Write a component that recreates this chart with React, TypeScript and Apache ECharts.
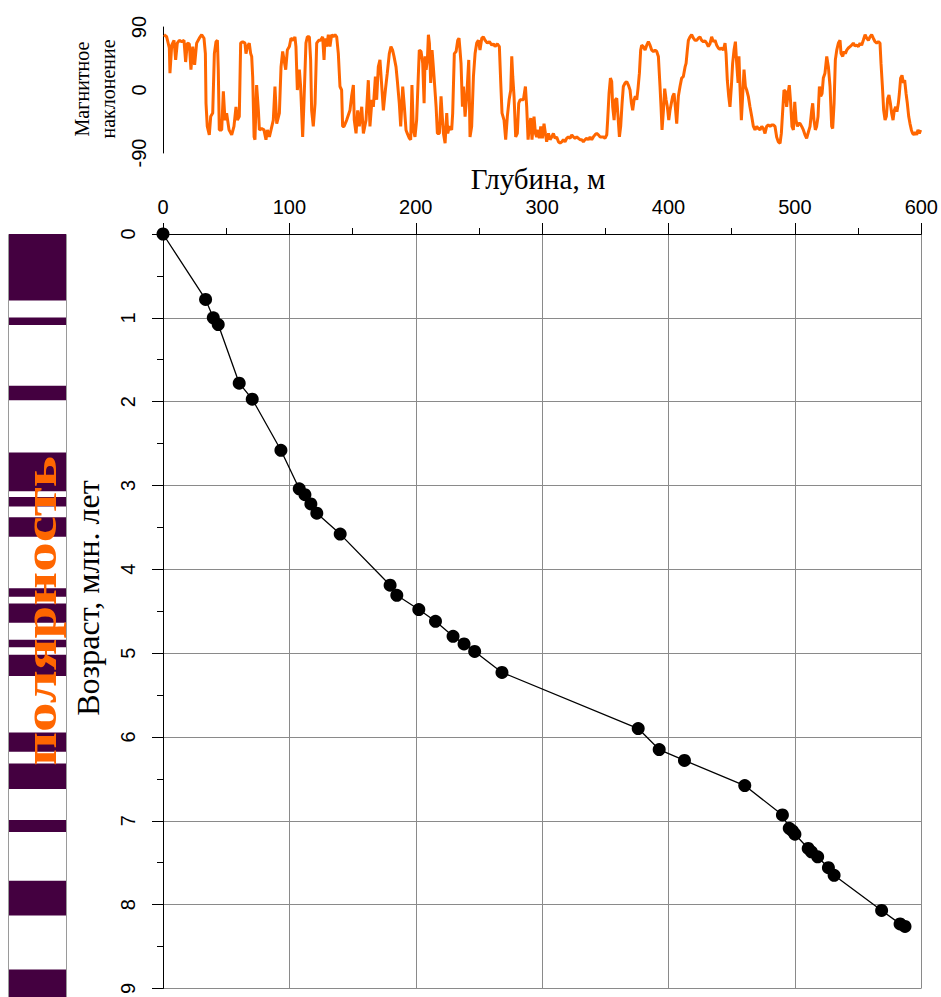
import React, { useEffect, useRef } from "react";
import * as echarts from "echarts";

// Magnetic inclination log: depth (m) and inclination (deg)
const inclDepth = [
  0.8, 2.9, 5.0, 5.5, 6.9, 8.7, 10.0, 11.3, 12.9, 14.8, 16.6, 17.9, 19.2, 20.8, 22.1, 23.5, 25.0, 26.6, 28.7, 30.6,
  32.4, 33.5, 34.0, 35.0, 36.6, 37.7, 39.3, 40.6, 41.9, 43.0, 43.7, 44.5, 46.4, 47.7, 49.0, 50.3, 52.2, 54.3, 56.1, 57.7,
  58.8, 60.3, 61.4, 63.0, 64.8, 65.6, 66.7, 68.2, 69.3, 70.1, 70.9, 72.0, 72.7, 74.0, 75.4, 76.2, 78.0, 79.8, 81.4, 82.5,
  84.1, 85.4, 87.2, 88.5, 89.9, 92.0, 93.3, 94.6, 95.7, 97.0, 98.3, 99.9, 101.2, 103.0, 104.3, 105.1, 106.2, 107.8, 108.8, 110.4,
  111.5, 113.0, 114.1, 115.7, 116.7, 117.5, 118.8, 120.2, 121.5, 123.1, 124.6, 126.2, 127.3, 128.1, 129.4, 130.7, 132.0, 133.3, 134.6, 136.0,
  137.3, 138.6, 139.9, 141.2, 142.0, 143.1, 145.2, 147.8, 149.1, 150.5, 151.2, 152.6, 153.9, 155.2, 157.1, 158.4, 160.5, 162.3, 163.6, 165.2,
  166.3, 167.9, 168.9, 170.2, 171.5, 172.6, 174.2, 175.8, 177.3, 178.9, 180.2, 181.5, 182.6, 184.2, 185.2, 186.8, 187.9, 189.5, 190.8, 192.1,
  193.1, 194.7, 195.8, 196.8, 197.9, 199.2, 200.5, 201.8, 202.6, 204.0, 205.3, 206.4, 207.2, 208.0, 209.0, 209.8, 210.6, 211.6, 212.7, 213.7,
  214.8, 215.9, 216.9, 218.5, 219.8, 220.6, 221.7, 223.0, 224.3, 225.1, 226.4, 228.2, 229.0, 230.3, 231.7, 233.0, 234.0, 234.8, 235.6, 236.7,
  237.5, 238.8, 240.1, 241.7, 242.7, 244.0, 245.4, 246.7, 248.0, 249.3, 250.6, 252.0, 253.3, 254.6, 256.4, 258.0, 259.9, 261.2, 262.5, 264.3,
  265.9, 267.0, 268.0, 269.6, 270.9, 272.2, 273.6, 274.9, 275.7, 276.5, 277.5, 278.8, 280.1, 281.2, 282.3, 283.6, 284.9, 286.5, 287.5, 288.6,
  289.6, 290.7, 291.7, 293.3, 294.4, 295.4, 296.5, 297.5, 298.6, 299.9, 301.2, 302.3, 303.3, 304.7, 306.0, 307.3, 308.6, 309.9, 311.2, 312.6,
  313.9, 315.2, 316.5, 317.8, 319.1, 320.5, 321.8, 323.1, 324.4, 325.7, 327.1, 328.4, 329.7, 331.0, 332.3, 333.6, 335.0, 336.3, 337.6, 338.9,
  340.2, 341.5, 342.9, 344.2, 345.5, 346.8, 348.1, 349.4, 350.8, 351.5, 352.6, 353.7, 354.7, 355.5, 356.6, 357.6, 358.7, 359.7, 360.8, 361.8,
  362.9, 363.9, 365.3, 366.6, 367.9, 369.2, 370.3, 371.3, 372.4, 373.4, 374.5, 375.5, 376.6, 377.6, 378.4, 379.7, 381.1, 382.4, 383.7, 385.0,
  386.3, 387.7, 389.0, 390.3, 391.6, 392.9, 393.7, 394.5, 395.6, 396.6, 397.7, 398.7, 399.8, 400.8, 402.9, 404.0, 405.0, 406.1, 407.4, 408.7,
  410.0, 411.3, 412.7, 413.5, 414.5, 415.3, 416.6, 417.9, 419.3, 420.6, 421.9, 423.2, 424.5, 425.8, 427.2, 428.5, 429.8, 431.1, 432.4, 433.7,
  435.1, 436.4, 437.7, 439.0, 440.3, 441.6, 443.0, 444.3, 445.1, 446.1, 447.2, 448.2, 449.3, 450.3, 451.4, 452.5, 453.5, 454.6, 455.3, 456.1,
  457.2, 458.2, 459.3, 460.4, 461.4, 462.7, 464.0, 465.4, 466.7, 468.0, 469.3, 470.6, 472.0, 473.3, 474.6, 475.9, 477.2, 478.5, 479.9, 481.2,
  482.5, 483.8, 485.1, 486.4, 487.8, 488.8, 489.9, 490.9, 492.0, 493.0, 494.1, 495.1, 496.2, 497.2, 498.3, 499.4, 500.4, 501.5, 502.5, 503.6,
  504.9, 506.2, 507.5, 508.8, 510.2, 511.5, 512.8, 513.6, 514.6, 515.7, 516.7, 517.8, 518.9, 519.9, 521.0, 522.0, 523.3, 524.7, 526.0, 527.3,
  528.6, 529.4, 530.5, 531.5, 532.6, 533.9, 535.2, 536.0, 537.3, 538.4, 539.4, 540.5, 541.8, 543.1, 544.4, 545.7, 547.0, 548.4, 549.7, 551.0,
  552.3, 553.6, 555.0, 556.3, 557.6, 558.9, 560.2, 561.5, 562.9, 564.2, 565.5, 566.8, 567.6, 568.7, 569.7, 570.8, 571.8, 572.9, 573.9, 575.0,
  576.0, 577.1, 578.1, 579.2, 580.2, 581.3, 582.1, 583.1, 584.2, 585.3, 586.3, 587.4, 588.4, 589.5, 590.5, 591.6, 592.6, 593.7, 594.7, 595.8,
  596.8, 597.9, 598.9,
];
const inclValue = [
  79, 76, 60, 24, 64, 71, 43, 67, 71, 69, 71, 40, 67, 66, 29, 62, 36, 67, 74, 79,
  74, 52, -19, -52, -64, -38, -33, 52, 69, 71, 29, -57, -57, -2, -43, -33, -57, -64, -52, -24,
  -43, -38, 67, 69, 67, 52, 62, 67, 52, 48, 19, -67, -71, 7, -29, -57, -55, -57, -71, -57,
  -67, -57, -43, 5, -48, -33, 33, 55, 43, 29, 57, 62, 74, 71, 76, 62, 0, 29, 5, -67,
  -14, 67, 76, 76, 43, -29, -52, -19, 67, 71, 71, 76, 43, 74, 62, 79, 62, 79, 76, 79,
  76, 52, 5, 0, -52, -52, -43, -29, -9, 7, -43, -62, -29, -52, -24, -62, -43, 14, -52, -14,
  -24, 19, -14, 33, 43, 14, -29, 0, 24, 52, 62, 57, 48, 33, 14, -19, -52, 5, -24, -57,
  -62, -69, -71, 7, -57, -67, -43, 19, 57, 55, 38, -19, 48, 29, 43, 79, 67, 10, 57, 33,
  5, -24, -62, -62, -9, -33, -62, -76, -33, -62, -52, -57, -33, 52, 55, 71, 74, 57, 38, -24,
  5, -38, -9, 43, -67, -52, 19, 52, 67, 71, 57, 74, 76, 71, 67, 69, 64, 66, 62, 66,
  62, 10, -33, -43, -71, -38, -14, 0, 48, 19, -9, -67, -62, -19, -14, -14, -14, 5, -24, -71,
  -52, -40, -71, -38, -62, -67, -57, -69, -52, -69, -48, -62, -74, -62, -71, -67, -62, -69, -67, -74,
  -76, -74, -71, -74, -69, -67, -69, -64, -67, -69, -67, -69, -71, -71, -74, -71, -69, -71, -67, -71,
  -67, -64, -62, -64, -67, -67, -67, -69, -64, -43, -5, 17, 12, -24, -43, -14, -12, -38, -67, -52,
  -19, 5, 10, 12, 7, 0, -19, -29, -14, -9, -14, 2, 24, 57, 64, 62, 57, 64, 69, 64,
  57, 55, 57, 55, 48, 5, -24, -57, -29, 2, -14, -24, -43, -29, -9, -5, -24, -48, -9, 5,
  17, 19, 33, 38, 57, 71, 76, 79, 74, 71, 71, 74, 76, 71, 69, 70, 67, 62, 66, 76,
  69, 71, 64, 60, 58, 60, 57, 67, 52, 14, -9, -24, 5, 38, 57, 69, 38, 10, 48, 5,
  -43, -9, 29, 5, 0, -9, -24, -38, -52, -57, -52, -55, -57, -52, -55, -62, -52, -50, -52, -50,
  -50, -52, -67, -74, -76, -62, -29, 0, -2, -24, -5, 7, -19, -52, -57, -17, -43, -52, -48, -48,
  -52, -57, -64, -69, -60, -52, -29, -19, -43, -57, -52, -38, 5, -9, -5, 17, 24, 48, 33, 5,
  -52, -55, -19, 43, 57, 67, 71, 52, 48, 55, 52, 57, 60, 62, 64, 67, 63, 64, 62, 67,
  64, 71, 79, 74, 71, 76, 79, 74, 69, 67, 69, 67, 38, 5, -29, -43, -38, -12, -7, -19,
  -33, -43, -29, -24, -31, -19, -5, 17, 21, 10, 14, -5, -19, -38, -48, -57, -62, -64, -60, -64,
  -57, -62, -57,
];

// Age-depth tie points: depth (m) and age (Ma)
const tieDepth = [
  0, 33.7, 39.8, 43.7, 60.3, 70.6, 93.3, 107.8, 112.3, 117, 121.7, 140.2, 179.7, 185, 202.4, 215.6, 229.5, 238.2,
  246.6, 268.2, 376, 392.6, 412.6, 460.3, 490.1, 495.5, 498, 500, 510.5, 513, 518, 526.5, 531, 568.6, 583.2, 587.1,
];
const tieAge = [
  0, 0.78, 1.0, 1.08, 1.78, 1.97, 2.58, 3.04, 3.11, 3.22, 3.33, 3.58, 4.19, 4.31, 4.48, 4.62, 4.8, 4.89,
  4.98, 5.23, 5.9, 6.15, 6.28, 6.58, 6.93, 7.09, 7.12, 7.16, 7.33, 7.37, 7.43, 7.56, 7.65, 8.07, 8.23, 8.26,
];

// Normal polarity intervals (Ma)
const normalStart = [0, 0.99, 1.8, 2.59, 3.12, 3.36, 4.2, 4.38, 4.81, 4.99, 5.91, 6.28, 6.95, 7.67, 8.72];
const normalEnd = [0.79, 1.08, 1.97, 3.05, 3.23, 3.59, 4.3, 4.61, 4.9, 5.24, 6.14, 6.58, 7.09, 8.08, 9.05];

const depthTicks = [0, 100, 200, 300, 400, 500, 600];
const ageTicks = [0, 1, 2, 3, 4, 5, 6, 7, 8, 9];
const inclTicks = [-90, 0, 90];

const SANS = '"Liberation Sans", Arial, sans-serif';
const SERIF = '"Liberation Serif", "Times New Roman", serif';
const GRID_COLOR = "#8a8a8a";
const ORANGE = "#ff6600";
const PURPLE = "#440040";

export default function App() {
  const ref = useRef<HTMLDivElement>(null);

  useEffect(() => {
    if (!ref.current) return;
    const chart = echarts.init(ref.current, null, { renderer: "svg" });

    const option: any = {
      animation: false,
      backgroundColor: "#ffffff",
      grid: [
        { left: 163, top: 27, width: 759, height: 126 },
        { left: 163, top: 234, width: 759, height: 759 },
        { left: 9, top: 234, width: 57, height: 759 },
      ],
      xAxis: [
        {
          gridIndex: 0,
          type: "value",
          min: depthTicks[0],
          max: depthTicks[depthTicks.length - 1],
          interval: 100,
          axisLine: { show: false },
          axisTick: { show: false },
          axisLabel: { show: false },
          splitLine: { show: false },
        },
        {
          gridIndex: 1,
          type: "value",
          position: "top",
          min: depthTicks[0],
          max: depthTicks[depthTicks.length - 1],
          interval: 100,
          axisLine: { show: true, onZero: false, lineStyle: { color: "#000", width: 1 } },
          axisTick: { show: true, length: 11, lineStyle: { color: "#000" } },
          minorTick: { show: true, splitNumber: 2, length: 6, lineStyle: { color: "#000" } },
          axisLabel: { fontFamily: SANS, fontSize: 20, color: "#000", margin: 17 },
          splitLine: { show: true, lineStyle: { color: GRID_COLOR, width: 1 } },
        },
        {
          gridIndex: 2,
          type: "value",
          min: 0,
          max: 1,
          show: false,
        },
      ],
      yAxis: [
        {
          gridIndex: 0,
          type: "value",
          min: inclTicks[0],
          max: inclTicks[inclTicks.length - 1],
          interval: 90,
          axisLine: { show: true, lineStyle: { color: "#000", width: 1 } },
          axisTick: { show: false },
          axisLabel: { fontFamily: SANS, fontSize: 20, color: "#000", rotate: 90, margin: 14 },
          splitLine: { show: false },
        },
        {
          gridIndex: 1,
          type: "value",
          inverse: true,
          min: ageTicks[0],
          max: ageTicks[ageTicks.length - 1],
          interval: 1,
          axisLine: { show: true, onZero: false, lineStyle: { color: "#000", width: 1 } },
          axisTick: { show: true, length: 11, lineStyle: { color: "#000" } },
          minorTick: { show: true, splitNumber: 2, length: 6, lineStyle: { color: "#000" } },
          axisLabel: { fontFamily: SANS, fontSize: 20, color: "#000", rotate: 90, margin: 25 },
          splitLine: { show: true, lineStyle: { color: GRID_COLOR, width: 1 } },
        },
        {
          gridIndex: 2,
          type: "value",
          inverse: true,
          min: ageTicks[0],
          max: ageTicks[ageTicks.length - 1],
          show: false,
        },
      ],
      series: [
        {
          type: "line",
          xAxisIndex: 0,
          yAxisIndex: 0,
          data: inclDepth.map((d, i) => [d, inclValue[i]]),
          showSymbol: false,
          symbol: "none",
          lineStyle: { color: ORANGE, width: 3 },
          itemStyle: { color: ORANGE },
          z: 3,
        },
        {
          type: "line",
          xAxisIndex: 1,
          yAxisIndex: 1,
          data: tieDepth.map((d, i) => [d, tieAge[i]]),
          symbol: "circle",
          symbolSize: 13,
          lineStyle: { color: "#000", width: 1.3 },
          itemStyle: { color: "#000" },
          z: 5,
        },
        {
          type: "custom",
          xAxisIndex: 2,
          yAxisIndex: 2,
          clip: false,
          data: normalStart.map((s, i) => [s, normalEnd[i]]),
          encode: { y: [0, 1] },
          renderItem: (params: any, api: any) => {
            const a = api.coord([0, api.value(0)]);
            const b = api.coord([1, api.value(1)]);
            return {
              type: "rect",
              shape: { x: a[0], y: a[1], width: b[0] - a[0], height: b[1] - a[1] },
              style: { fill: PURPLE },
            };
          },
          z: 2,
        },
      ],
      graphic: [
        {
          type: "rect",
          shape: { x: 8.5, y: 234.5, width: 58, height: 770 },
          style: { fill: "none", stroke: "#9a9a9a", lineWidth: 1 },
          z: 1,
        },
        {
          type: "text",
          x: 82,
          y: 89,
          rotation: Math.PI / 2,
          style: {
            text: "Магнитное",
            font: `20px ${SERIF}`,
            fill: "#000",
            textAlign: "center",
            textVerticalAlign: "middle",
          },
        },
        {
          type: "text",
          x: 108,
          y: 89,
          rotation: Math.PI / 2,
          style: {
            text: "наклонение",
            font: `20px ${SERIF}`,
            fill: "#000",
            textAlign: "center",
            textVerticalAlign: "middle",
          },
        },
        {
          type: "text",
          x: 538,
          y: 179,
          style: {
            text: "Глубина, м",
            font: `29px ${SERIF}`,
            fill: "#000",
            textAlign: "center",
            textVerticalAlign: "middle",
          },
        },
        {
          type: "text",
          x: 88,
          y: 598,
          rotation: Math.PI / 2,
          style: {
            text: "Возраст, млн. лет",
            font: `32px ${SERIF}`,
            fill: "#000",
            textAlign: "center",
            textVerticalAlign: "middle",
          },
        },
        {
          type: "text",
          x: 40,
          y: 611,
          rotation: Math.PI / 2,
          scaleX: 1.28,
          z: 100,
          style: {
            text: "полярность",
            font: `bold 46px ${SERIF}`,
            fill: ORANGE,
            textAlign: "center",
            textVerticalAlign: "middle",
          },
        },
      ],
    };

    chart.setOption(option);
    return () => chart.dispose();
  }, []);

  return (
    <div
      ref={ref}
      style={{ position: "fixed", left: 0, top: 0, width: 941, height: 997, background: "#fff" }}
    />
  );
}
